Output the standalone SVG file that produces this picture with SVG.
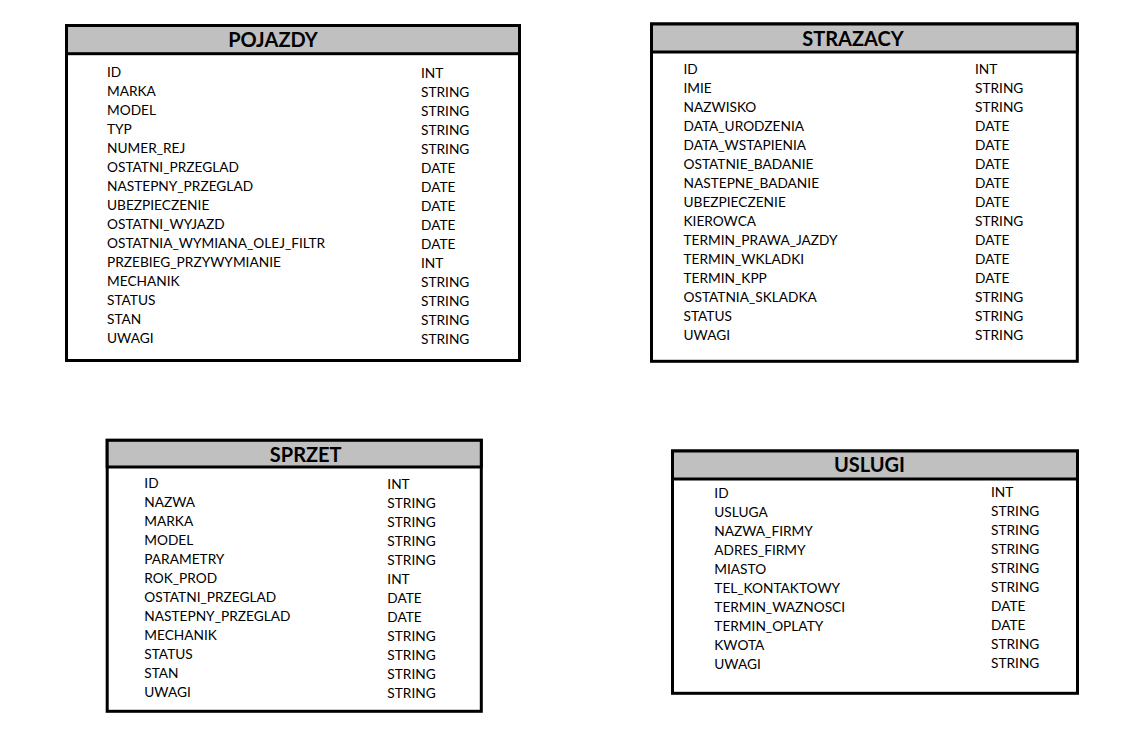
<svg xmlns="http://www.w3.org/2000/svg" width="1135" height="731" viewBox="0 0 1135 731">
<style>
.box{fill:#ffffff;stroke:#000;stroke-width:3}
.hdr{fill:#c0c0c0;stroke:#000;stroke-width:3}
.title{font-family:Lato,"Liberation Sans",sans-serif;font-weight:bold;font-size:20px;fill:#000;text-anchor:middle}
.f{font-family:Lato,"Liberation Sans",sans-serif;font-size:13.7px;fill:#000}
</style>
<rect width="1135" height="731" fill="#fff"/>
<g id="POJAZDY">
<rect class="box" x="66.5" y="25.5" width="453" height="335"/>
<rect class="hdr" x="66.5" y="25.5" width="453" height="28.2"/>
<text class="title" x="273" y="46.7">POJAZDY</text>
<g class="f">
<text x="107" y="77">ID</text><text x="421" y="78">INT</text>
<text x="107" y="96">MARKA</text><text x="421" y="97">STRING</text>
<text x="107" y="115">MODEL</text><text x="421" y="116">STRING</text>
<text x="107" y="134">TYP</text><text x="421" y="135">STRING</text>
<text x="107" y="153">NUMER_REJ</text><text x="421" y="154">STRING</text>
<text x="107" y="172">OSTATNI_PRZEGLAD</text><text x="421" y="173">DATE</text>
<text x="107" y="191">NASTEPNY_PRZEGLAD</text><text x="421" y="192">DATE</text>
<text x="107" y="210">UBEZPIECZENIE</text><text x="421" y="211">DATE</text>
<text x="107" y="229">OSTATNI_WYJAZD</text><text x="421" y="230">DATE</text>
<text x="107" y="248">OSTATNIA_WYMIANA_OLEJ_FILTR</text><text x="421" y="249">DATE</text>
<text x="107" y="267">PRZEBIEG_PRZYWYMIANIE</text><text x="421" y="268">INT</text>
<text x="107" y="286">MECHANIK</text><text x="421" y="287">STRING</text>
<text x="107" y="305">STATUS</text><text x="421" y="306">STRING</text>
<text x="107" y="324">STAN</text><text x="421" y="325">STRING</text>
<text x="107" y="343">UWAGI</text><text x="421" y="344">STRING</text>
</g>
</g>
<g id="STRAZACY">
<rect class="box" x="651.5" y="24" width="425.8" height="337.3"/>
<rect class="hdr" x="651.5" y="24" width="425.8" height="28"/>
<text class="title" x="853" y="45.7">STRAZACY</text>
<g class="f">
<text x="683.5" y="73.7">ID</text><text x="975" y="73.7">INT</text>
<text x="683.5" y="92.7">IMIE</text><text x="975" y="92.7">STRING</text>
<text x="683.5" y="111.7">NAZWISKO</text><text x="975" y="111.7">STRING</text>
<text x="683.5" y="130.7">DATA_URODZENIA</text><text x="975" y="130.7">DATE</text>
<text x="683.5" y="149.7">DATA_WSTAPIENIA</text><text x="975" y="149.7">DATE</text>
<text x="683.5" y="168.7">OSTATNIE_BADANIE</text><text x="975" y="168.7">DATE</text>
<text x="683.5" y="187.7">NASTEPNE_BADANIE</text><text x="975" y="187.7">DATE</text>
<text x="683.5" y="206.7">UBEZPIECZENIE</text><text x="975" y="206.7">DATE</text>
<text x="683.5" y="225.7">KIEROWCA</text><text x="975" y="225.7">STRING</text>
<text x="683.5" y="244.7">TERMIN_PRAWA_JAZDY</text><text x="975" y="244.7">DATE</text>
<text x="683.5" y="263.7">TERMIN_WKLADKI</text><text x="975" y="263.7">DATE</text>
<text x="683.5" y="282.7">TERMIN_KPP</text><text x="975" y="282.7">DATE</text>
<text x="683.5" y="301.7">OSTATNIA_SKLADKA</text><text x="975" y="301.7">STRING</text>
<text x="683.5" y="320.7">STATUS</text><text x="975" y="320.7">STRING</text>
<text x="683.5" y="339.7">UWAGI</text><text x="975" y="339.7">STRING</text>
</g>
</g>
<g id="SPRZET">
<rect class="box" x="107.2" y="440.3" width="374.1" height="271"/>
<rect class="hdr" x="107.2" y="440.3" width="374.1" height="26.7"/>
<text class="title" x="305.7" y="461.7">SPRZET</text>
<g class="f">
<text x="144.3" y="487.7">ID</text><text x="387.3" y="489">INT</text>
<text x="144.3" y="506.7">NAZWA</text><text x="387.3" y="508">STRING</text>
<text x="144.3" y="525.7">MARKA</text><text x="387.3" y="527">STRING</text>
<text x="144.3" y="544.7">MODEL</text><text x="387.3" y="546">STRING</text>
<text x="144.3" y="563.7">PARAMETRY</text><text x="387.3" y="565">STRING</text>
<text x="144.3" y="582.7">ROK_PROD</text><text x="387.3" y="584">INT</text>
<text x="144.3" y="601.7">OSTATNI_PRZEGLAD</text><text x="387.3" y="603">DATE</text>
<text x="144.3" y="620.7">NASTEPNY_PRZEGLAD</text><text x="387.3" y="622">DATE</text>
<text x="144.3" y="639.7">MECHANIK</text><text x="387.3" y="641">STRING</text>
<text x="144.3" y="658.7">STATUS</text><text x="387.3" y="660">STRING</text>
<text x="144.3" y="677.7">STAN</text><text x="387.3" y="679">STRING</text>
<text x="144.3" y="696.7">UWAGI</text><text x="387.3" y="698">STRING</text>
</g>
</g>
<g id="USLUGI">
<rect class="box" x="672.5" y="451" width="405" height="242.3"/>
<rect class="hdr" x="672.5" y="451" width="405" height="28"/>
<text class="title" x="869.5" y="471.7">USLUGI</text>
<g class="f">
<text x="714.3" y="498.3">ID</text><text x="991" y="496.8">INT</text>
<text x="714.3" y="517.3">USLUGA</text><text x="991" y="515.8">STRING</text>
<text x="714.3" y="536.3">NAZWA_FIRMY</text><text x="991" y="534.8">STRING</text>
<text x="714.3" y="555.3">ADRES_FIRMY</text><text x="991" y="553.8">STRING</text>
<text x="714.3" y="574.3">MIASTO</text><text x="991" y="572.8">STRING</text>
<text x="714.3" y="593.3">TEL_KONTAKTOWY</text><text x="991" y="591.8">STRING</text>
<text x="714.3" y="612.3">TERMIN_WAZNOSCI</text><text x="991" y="610.8">DATE</text>
<text x="714.3" y="631.3">TERMIN_OPLATY</text><text x="991" y="629.8">DATE</text>
<text x="714.3" y="650.3">KWOTA</text><text x="991" y="648.8">STRING</text>
<text x="714.3" y="669.3">UWAGI</text><text x="991" y="667.8">STRING</text>
</g>
</g>
<g id="connectors"></g>
</svg>
